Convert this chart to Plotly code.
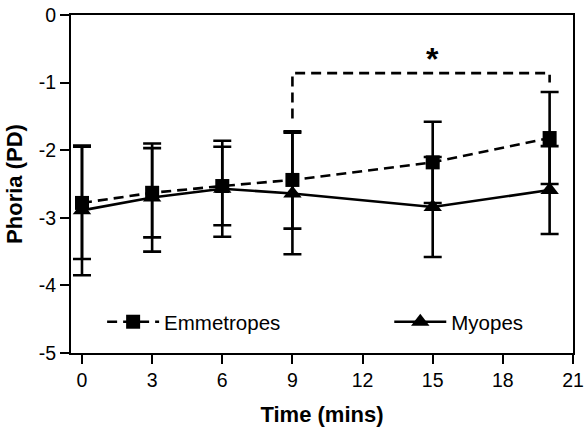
import plotly.graph_objects as go

time = [0, 3, 6, 9, 15, 20]
emm_mean = [-2.78, -2.63, -2.53, -2.44, -2.18, -1.82]
emm_sd = [0.83, 0.66, 0.58, 0.72, 0.60, 0.68]
myo_mean = [-2.89, -2.70, -2.57, -2.64, -2.84, -2.59]
myo_sd = [0.96, 0.80, 0.71, 0.90, 0.74, 0.65]

x_ticks = [0, 3, 6, 9, 12, 15, 18, 21]
y_ticks = [0, -1, -2, -3, -4, -5]
y_ticklabels = ["0", "-1", "-2", "-3", "-4", "-5"]

bracket_x = [9, 20]
bracket_y_top = -0.86
bracket_y_left = -1.53
bracket_y_right = -1.0
star_x = 15
star_y = -0.65

FONT = "Liberation Sans, Arial, sans-serif"

fig = go.Figure()
fig.add_trace(go.Scatter(
    x=time, y=myo_mean, name="Myopes", mode="lines+markers",
    line=dict(color="black", width=2.6),
    marker=dict(symbol="triangle-up", size=16, color="black"),
    error_y=dict(type="data", array=myo_sd, color="black", thickness=2.6, width=9),
    legend="legend2",
))
fig.add_trace(go.Scatter(
    x=time, y=emm_mean, name="Emmetropes", mode="lines+markers",
    line=dict(color="black", width=2.6, dash="10px,6px"),
    marker=dict(symbol="square", size=14, color="black"),
    error_y=dict(type="data", array=emm_sd, color="black", thickness=2.6, width=9),
    legend="legend",
))

# significance bracket
fig.add_shape(type="path",
              path=f"M {bracket_x[0]},{bracket_y_left} L {bracket_x[0]},{bracket_y_top} "
                   f"L {bracket_x[1]},{bracket_y_top} L {bracket_x[1]},{bracket_y_right}",
              line=dict(color="black", width=2.6, dash="10px,6px"))
fig.add_annotation(x=star_x, y=star_y, text="<b>*</b>", showarrow=False,
                   font=dict(family=FONT, size=32, color="black"))

leg_common = dict(orientation="h", y=0.092, xanchor="left", yanchor="middle",
                  itemwidth=52, bgcolor="rgba(0,0,0,0)",
                  font=dict(family=FONT, size=20.5, color="black"))

fig.update_layout(
    width=585, height=427,
    margin=dict(l=71, r=12, t=15, b=74),
    paper_bgcolor="white", plot_bgcolor="white",
    font=dict(family=FONT, color="black", size=19),
    showlegend=True,
    legend=dict(x=0.062, **leg_common),
    legend2=dict(x=0.634, **leg_common),
    xaxis=dict(range=[-0.47, 21], tickvals=x_ticks, automargin=False,
               showgrid=False, zeroline=False, showline=True, linecolor="black",
               linewidth=2, mirror=True, ticks="outside", ticklen=9, tickwidth=2,
               tickcolor="black", tickfont=dict(size=19.5),
               title=dict(text="<b>Time (mins)</b>", font=dict(size=22), standoff=16)),
    yaxis=dict(range=[-5, 0], tickvals=y_ticks, ticktext=y_ticklabels, automargin=False,
               showgrid=False, zeroline=False, showline=True, linecolor="black",
               linewidth=2, mirror=True, ticks="outside", ticklen=9, tickwidth=2,
               tickcolor="black", tickfont=dict(size=19.5),
               title=dict(text="<b>Phoria (PD)</b>", font=dict(size=22), standoff=10)),
)

fig.write_html("out.html", config={"displayModeBar": False},
               post_script="document.body.style.margin='0';document.body.style.overflow='hidden';")
